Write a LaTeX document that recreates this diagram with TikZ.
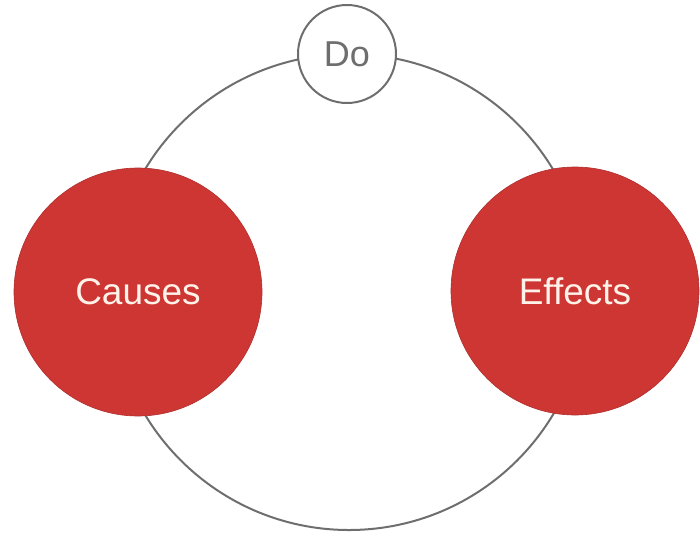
\documentclass[tikz,border=0pt]{standalone}
\usepackage{fontspec}
\setmainfont{Liberation Sans}
\definecolor{ringgray}{RGB}{110,110,110}
\definecolor{causered}{RGB}{206,54,52}
\definecolor{cream}{RGB}{255,242,232}
\begin{document}
\begin{tikzpicture}[x=1pt,y=-1pt,
  ring/.style={draw=ringgray,line width=2pt},
  bigred/.style={circle,fill=causered,draw=causered!85!black,line width=0.6pt,minimum size=248pt,inner sep=0pt,text=cream,font=\fontsize{37}{40}\selectfont},
  small/.style={circle,fill=white,draw=ringgray,line width=2pt,minimum size=98pt,inner sep=0pt,text=ringgray,font=\fontsize{36}{40}\selectfont}]
\useasboundingbox (0,0) rectangle (700,533);
\coordinate (ctr) at (349,292);
\draw[ring] (ctr) circle[radius=238];
\node[small] (do) at (347,54) {Do};
\node[bigred] (causes) at (138,292) {Causes};
\node[bigred] (effects) at (575,291) {Effects};
\end{tikzpicture}
\end{document}
